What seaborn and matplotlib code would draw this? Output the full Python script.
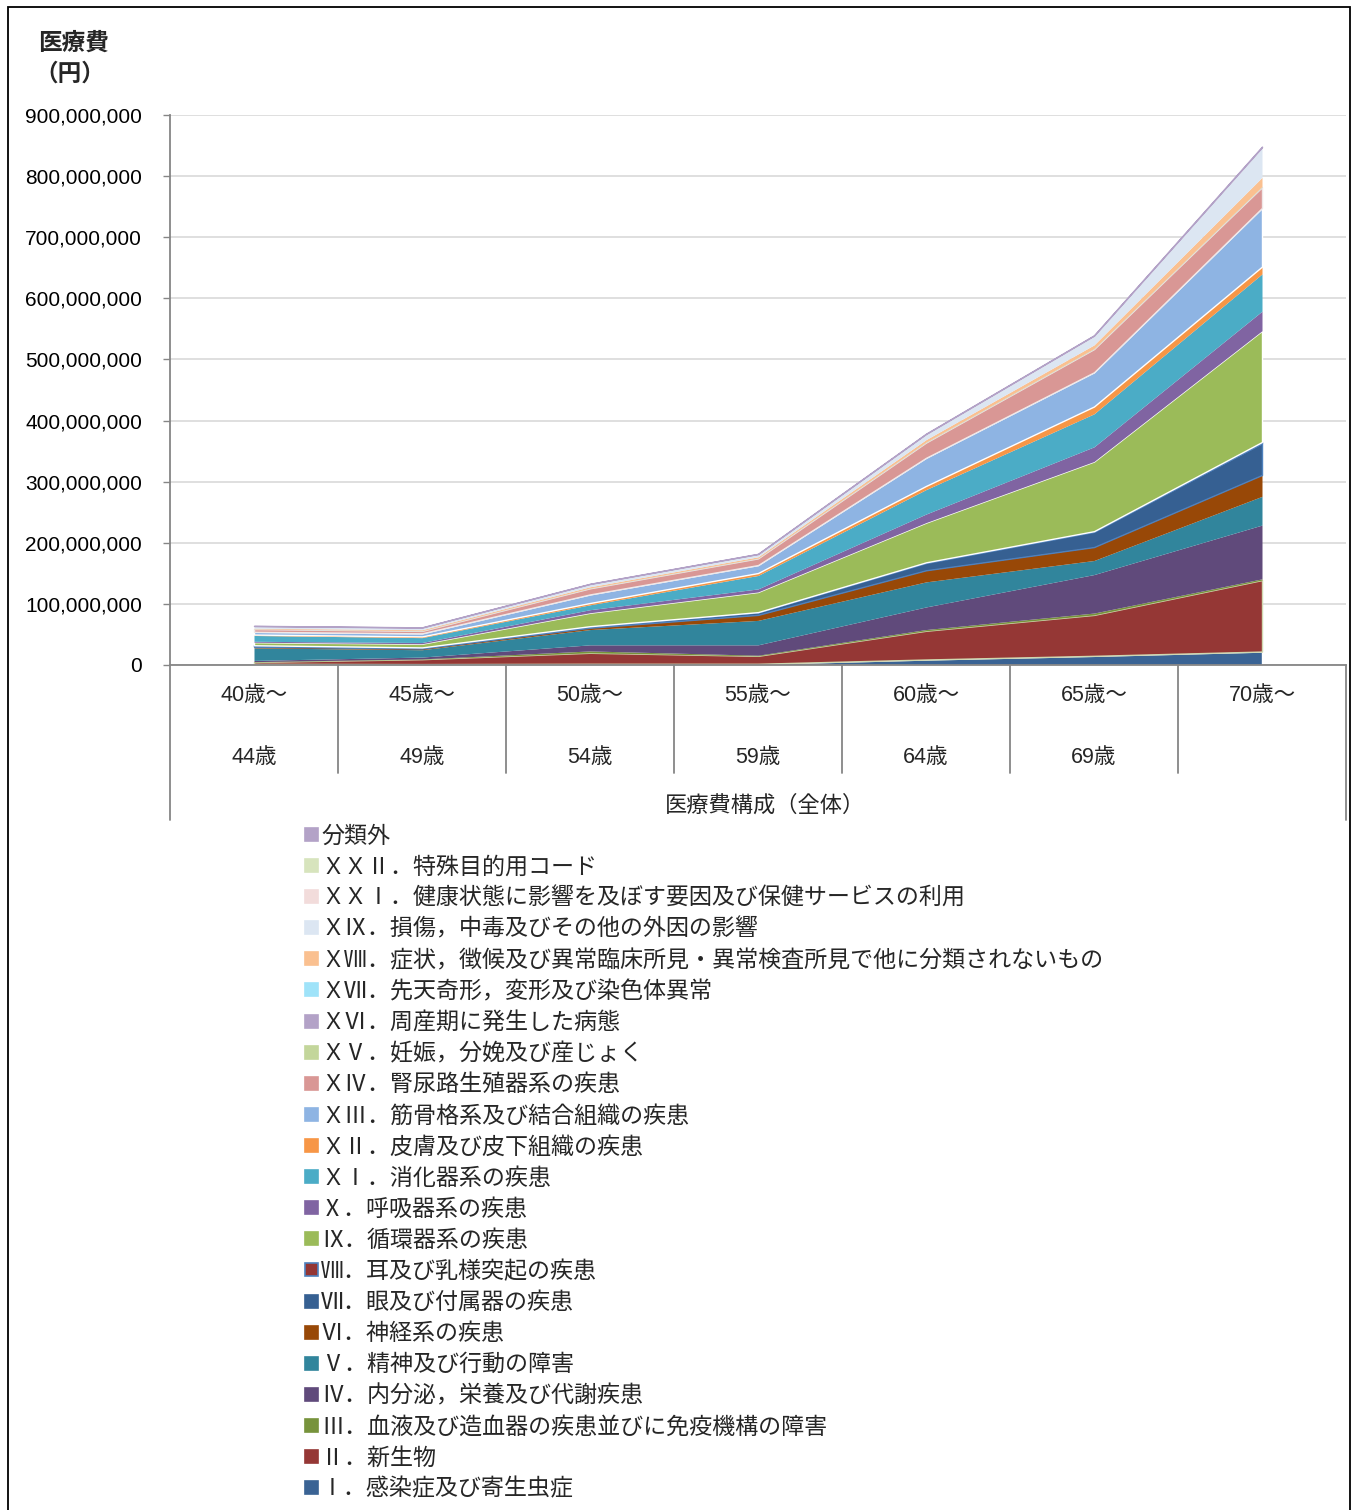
import numpy as np
import matplotlib
matplotlib.use("Agg")
import matplotlib.pyplot as plt
from matplotlib.patches import Rectangle
from matplotlib.ticker import FuncFormatter
import seaborn as sns

# age groups (top row / bottom row of the category axis)
age_top = ["40歳～", "45歳～", "50歳～", "55歳～", "60歳～", "65歳～", "70歳～"]
age_bottom = ["44歳", "49歳", "54歳", "59歳", "64歳", "69歳", ""]

# disease chapters, bottom of the stack first
chapters = [
    "Ⅰ．感染症及び寄生虫症",
    "Ⅱ．新生物",
    "Ⅲ．血液及び造血器の疾患並びに免疫機構の障害",
    "Ⅳ．内分泌，栄養及び代謝疾患",
    "Ⅴ．精神及び行動の障害",
    "Ⅵ．神経系の疾患",
    "Ⅶ．眼及び付属器の疾患",
    "Ⅷ．耳及び乳様突起の疾患",
    "Ⅸ．循環器系の疾患",
    "Ⅹ．呼吸器系の疾患",
    "ＸⅠ．消化器系の疾患",
    "ＸⅡ．皮膚及び皮下組織の疾患",
    "ＸⅢ．筋骨格系及び結合組織の疾患",
    "ＸⅣ．腎尿路生殖器系の疾患",
    "ＸⅤ．妊娠，分娩及び産じょく",
    "ＸⅥ．周産期に発生した病態",
    "ＸⅦ．先天奇形，変形及び染色体異常",
    "ＸⅧ．症状，徴候及び異常臨床所見・異常検査所見で他に分類されないもの",
    "ＸⅨ．損傷，中毒及びその他の外因の影響",
    "ＸＸⅠ．健康状態に影響を及ぼす要因及び保健サービスの利用",
    "ＸＸⅡ．特殊目的用コード",
    "分類外",
]

# medical cost per chapter, in millions of yen (40-44 ... 70+)
c01 = [2, 1.5, 2, 2, 9, 15, 22]
c02 = [3, 8, 18, 13, 47, 67, 117]
c03 = [0.5, 0.5, 3, 1, 2, 3, 2]
c04 = [2, 3, 10, 17, 37, 63, 88]
c05 = [20.5, 12, 25, 40, 41, 23, 47]
c06 = [2, 2, 3, 9, 19, 22, 35]
c07 = [2, 1.5, 2, 4, 12, 25, 52]
c08 = [0.3, 0.3, 0.5, 0.5, 1, 1, 2]
c09 = [5, 6, 22, 33, 65, 114, 182]
c10 = [1.5, 2, 5, 5, 14, 24, 32]
c11 = [9.5, 8, 8, 22, 40, 54, 61]
c12 = [1.5, 2, 3, 4, 6, 12, 12]
c13 = [4.5, 5, 14, 13, 46, 56, 96]
c14 = [4.5, 4, 10, 11, 25, 38, 34]
c15 = [0.2, 0.2, 0.3, 0.3, 0.5, 0.5, 0.5]
c16 = [0, 0, 0, 0, 0, 0, 0]
c17 = [0.2, 0.2, 0.2, 0.2, 0.3, 0.3, 0.5]
c18 = [1, 1.5, 2, 2, 4, 6, 15]
c19 = [3, 3, 4, 4, 8, 14, 48]
c21 = [0.5, 0.5, 0.5, 0.5, 1, 1, 1]
c22 = [0.1, 0.1, 0.1, 0.1, 0.2, 0.2, 0.3]
c_other = [0.3, 0.3, 0.3, 0.3, 0.5, 0.5, 1]

series = [c01, c02, c03, c04, c05, c06, c07, c08, c09, c10, c11,
          c12, c13, c14, c15, c16, c17, c18, c19, c21, c22, c_other]

colors = ["#3A6394", "#953735", "#77933C", "#604A7B", "#31859C", "#984807",
          "#366092", "#943634", "#9BBB59", "#8064A2", "#4BACC6", "#F79646",
          "#8EB4E3", "#D99795", "#C3D69B", "#B3A2C7", "#9FE3F9", "#FAC090",
          "#DCE6F2", "#F2DCDB", "#D7E4BD", "#B3A2C7"]
edges = {0: "white", 1: "#D0D8B0", 6: "#4F81BD", 7: "#4F81BD", 8: "white",
         12: "white", 13: "#F0E8E8", 21: "#B3A2C7"}

sns.set_theme(style="white")
plt.rcParams["font.family"] = ["Liberation Sans", "Noto Sans CJK JP", "DejaVu Sans"]
CJK = ["Noto Sans CJK JP", "DejaVu Sans"]

W, H = 1359, 1510
fig = plt.figure(figsize=(W / 100, H / 100), dpi=100)
ax = fig.add_axes([170 / W, 1 - 665 / H, (1346 - 170) / W, 550 / H])

x = np.arange(len(age_top))
values = np.array(series) * 1e6
polys = ax.stackplot(x, values, colors=colors, linewidth=0)
for i, p in enumerate(polys):
    if i in edges:
        p.set_edgecolor(edges[i])
        p.set_linewidth(1.0)

ax.set_xlim(-0.5, len(age_top) - 0.5)
ax.set_ylim(0, 9e8)
ax.set_yticks(np.arange(0, 9.01e8, 1e8))
ax.yaxis.set_major_formatter(FuncFormatter(lambda v, p: f"{int(v):,}"))
ax.tick_params(axis="y", labelsize=15, length=5, color="#868686", width=1,
               left=True, pad=15, labelcolor="black")
ax.set_xticks([])
ax.grid(axis="y", color="#D9D9D9", linewidth=1.2)
ax.set_axisbelow(True)
for s in ["top", "right"]:
    ax.spines[s].set_visible(False)
for s in ["left", "bottom"]:
    ax.spines[s].set_color("#868686")
    ax.spines[s].set_linewidth(1.3)

# multi-level category axis
trans = ax.get_xaxis_transform()
for b in np.arange(0.5, len(age_top) - 1, 1.0):
    ax.plot([b, b], [0, -108 / 550], color="#868686", lw=1.3, transform=trans, clip_on=False)
for b in [-0.5, len(age_top) - 0.5]:
    ax.plot([b, b], [0, -155 / 550], color="#868686", lw=1.3, transform=trans, clip_on=False)
for i in range(len(age_top)):
    ax.text(i, -31 / 550, age_top[i], transform=trans, ha="center", va="center", fontsize=15.5)
    if age_bottom[i]:
        ax.text(i, -93 / 550, age_bottom[i], transform=trans, ha="center", va="center", fontsize=15.5)
ax.text(3.04, -140 / 550, "医療費構成（全体）", transform=trans, ha="center", va="center",
        fontsize=16, family=CJK)

# axis title
fig.text(73 / W, 1 - 43 / H, "医療費", ha="center", va="center", fontsize=17,
         fontweight="bold", family=CJK)
fig.text(70 / W, 1 - 74 / H, "（円）", ha="center", va="center", fontsize=17,
         fontweight="bold", family=CJK)

# legend, top entry first
for k, idx in enumerate(range(len(chapters) - 1, -1, -1)):
    yc = 835 + k * 31.1
    fc = colors[idx]
    ec = "#4F81BD" if idx == 7 else fc
    fig.add_artist(Rectangle((305 / W, 1 - (yc + 6) / H), 13 / W, 13 / H,
                             transform=fig.transFigure, facecolor=fc, edgecolor=ec, lw=1.2))
    fig.text(321 / W, 1 - (yc + 1) / H, chapters[idx], ha="left", va="center",
             fontsize=16.6, family=CJK)

# outer frame
fig.add_artist(Rectangle((8 / W, -0.01), (1350 - 8) / W, 1 - 7 / H + 0.01,
                         transform=fig.transFigure, fill=False, edgecolor="black", lw=1.3))

fig.savefig("out.png", dpi=100)
